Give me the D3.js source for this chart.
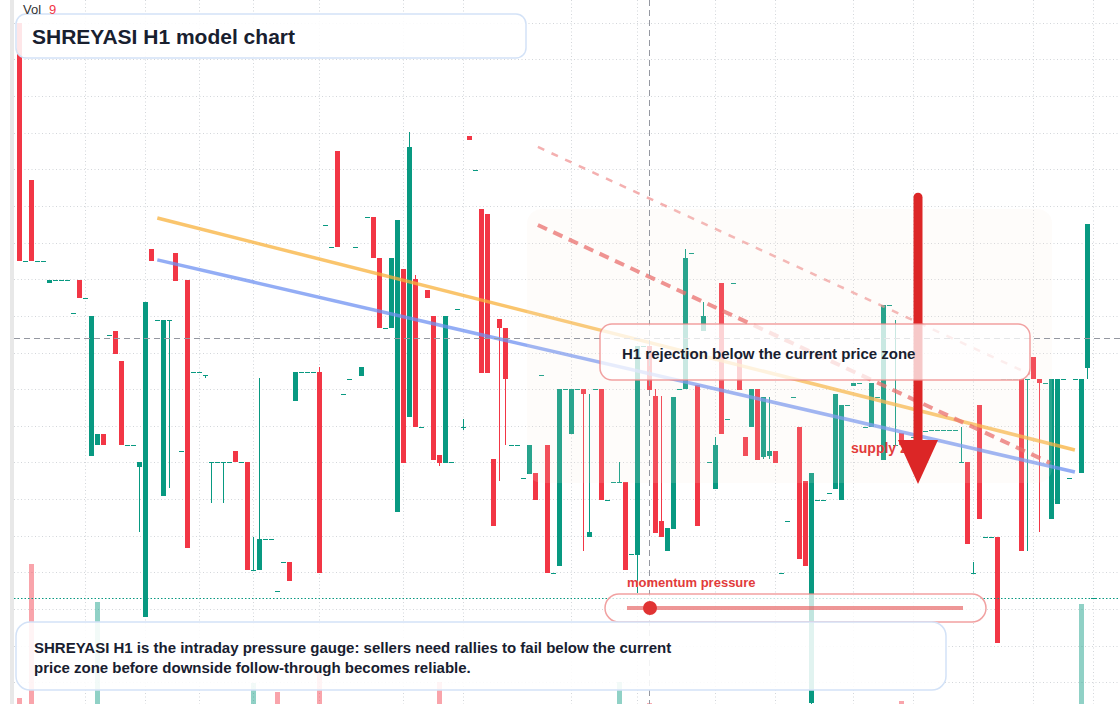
<!DOCTYPE html>
<html>
<head>
<meta charset="utf-8">
<script src="https://cdn.jsdelivr.net/npm/d3@7"></script>
<style>
html, body { margin: 0; padding: 0; background: #fff; }
svg { display: block; font-family: "Liberation Sans", Arial, Helvetica, sans-serif; }
</style>
</head>
<body>
<svg id="chart" width="1120" height="704"></svg>
<script>
// hourly bars, oldest first
const opens = [
  320.0, 255.0, 277.1, 255.0, 255.0, 249.0, 249.8, 249.8, 249.8, 240.8,
  249.8, 245.0, 201.8, 204.7, 207.9, 234.8, 235.9, 227.8, 204.8, 204.8,
  198.7, 157.9, 258.2, 239.0, 190.8, 239.0, 257.1, 203.0, 249.8, 224.6,
  224.6, 223.8, 200.0, 200.0, 200.0, 200.0, 203.0, 200.0, 200.0, 170.7,
  170.7, 179.0, 179.0, 164.8, 172.9, 172.9, 216.8, 224.7, 224.7, 224.7,
  224.7, 264.9, 258.9, 285.1, 218.7, 222.9, 258.9, 223.7, 267.1, 267.1,
  255.9, 236.7, 236.7, 186.6, 252.9, 212.5, 250.0, 209.7, 247.0, 239.9,
  202.0, 199.8, 200.0, 242.0, 209.7, 289.0, 279.9, 269.1, 267.9, 200.9,
  239.1, 236.8, 204.8, 204.8, 195.9, 196.8, 197.0, 223.9, 204.9, 169.9,
  171.8, 220.0, 207.8, 220.0, 220.0, 179.7, 220.0, 220.0, 189.8, 194.8,
  194.8, 194.8, 174.9, 174.7, 231.8, 231.8, 218.1, 183.9, 175.9, 181.9,
  220.0, 220.0, 257.1, 221.2, 235.8, 200.0, 192.7, 249.1, 211.9, 249.0,
  228.3, 206.9, 209.7, 220.0, 201.6, 201.8, 203.1, 169.9, 183.9, 217.9,
  209.8, 195.0, 134.5, 189.8, 189.8, 191.8, 192.7, 189.8, 215.8, 220.8,
  221.8, 209.8, 209.8, 217.9, 200.6, 243.1, 204.9, 208.0, 205.0, 207.0,
  208.0, 208.5, 209.0, 209.0, 209.0, 209.0, 209.0, 200.0, 200.0, 169.9,
  215.8, 179.7, 179.7, 179.7, 222.9, 222.9, 222.9, 222.9, 222.9, 228.9,
  222.9, 221.7, 184.7, 188.7, 222.9, 195.9, 222.9, 197.0, 225.8, 162.9
];
const highs = [
  320.0, 255.0, 277.1, 255.0, 255.0, 249.8, 249.8, 249.8, 249.8, 240.8,
  249.8, 245.0, 239.9, 207.9, 207.9, 234.8, 235.9, 227.8, 204.8, 204.8,
  200.0, 243.8, 258.2, 239.0, 239.0, 239.0, 257.1, 203.0, 249.8, 224.6,
  224.6, 223.8, 200.0, 200.0, 200.0, 200.0, 203.0, 200.0, 200.0, 179.7,
  223.0, 179.0, 179.0, 164.8, 172.9, 172.9, 224.7, 224.7, 224.7, 224.7,
  226.0, 264.9, 258.9, 285.1, 218.7, 222.9, 258.9, 226.0, 267.1, 267.1,
  255.9, 236.7, 255.9, 266.1, 252.9, 290.1, 251.2, 209.7, 247.0, 239.9,
  202.0, 239.9, 200.0, 242.0, 212.0, 289.0, 279.9, 269.1, 267.9, 200.9,
  239.1, 236.8, 204.8, 204.8, 195.9, 204.9, 197.0, 223.9, 204.9, 169.9,
  220.0, 220.0, 220.0, 220.0, 220.0, 218.8, 220.0, 220.0, 189.8, 194.8,
  200.0, 194.8, 174.9, 231.8, 231.8, 231.8, 220.0, 218.1, 182.1, 218.0,
  220.0, 258.2, 257.1, 221.2, 243.8, 200.0, 206.9, 249.1, 211.9, 249.0,
  228.3, 206.9, 220.0, 220.0, 218.0, 218.0, 203.1, 169.9, 183.9, 217.9,
  209.8, 195.0, 197.0, 189.8, 189.8, 191.8, 218.8, 215.8, 215.8, 221.8,
  221.8, 209.8, 221.8, 217.9, 243.1, 243.1, 239.0, 208.0, 205.0, 207.0,
  208.0, 208.5, 209.0, 209.0, 209.0, 209.0, 209.0, 209.8, 200.0, 172.9,
  215.8, 179.7, 179.7, 179.7, 222.9, 222.9, 222.9, 222.9, 222.9, 228.9,
  222.9, 221.7, 222.9, 222.9, 222.9, 195.9, 222.9, 222.9, 265.0, 162.9
];
const lows = [
  254.9, 255.0, 254.9, 255.0, 255.0, 249.0, 249.8, 249.8, 249.8, 240.8,
  244.9, 245.0, 201.8, 204.7, 204.7, 234.8, 229.7, 204.7, 204.8, 204.8,
  181.0, 157.9, 254.9, 239.0, 190.8, 193.0, 249.6, 203.0, 176.7, 224.6,
  224.6, 223.0, 189.0, 200.0, 189.0, 200.0, 200.0, 200.0, 170.7, 170.7,
  170.7, 179.0, 179.0, 164.8, 172.9, 167.6, 216.8, 224.7, 224.7, 224.7,
  169.9, 264.9, 258.9, 258.8, 218.7, 222.9, 258.9, 223.7, 267.1, 255.7,
  236.7, 236.7, 236.7, 186.6, 199.8, 212.5, 209.7, 209.7, 244.9, 200.6,
  199.0, 199.8, 200.0, 242.0, 209.0, 288.0, 279.9, 224.5, 224.5, 182.7,
  195.0, 204.9, 204.8, 204.8, 195.9, 196.8, 189.7, 223.9, 169.9, 169.9,
  171.8, 220.0, 207.8, 220.0, 175.9, 179.7, 220.0, 189.8, 189.8, 194.8,
  194.8, 170.7, 174.9, 164.3, 231.8, 219.8, 180.7, 179.7, 175.9, 181.9,
  220.0, 220.0, 257.1, 182.7, 235.8, 200.0, 192.7, 207.8, 211.9, 249.0,
  219.8, 201.8, 209.7, 200.6, 200.9, 200.9, 199.8, 169.9, 183.9, 217.9,
  173.6, 171.8, 134.0, 189.8, 189.8, 191.8, 192.7, 189.8, 215.8, 220.8,
  221.8, 209.8, 209.8, 217.9, 200.6, 243.1, 204.9, 204.9, 205.0, 207.0,
  208.0, 208.5, 209.0, 209.0, 209.0, 209.0, 209.0, 200.0, 177.7, 169.9,
  184.7, 179.7, 179.7, 150.8, 222.9, 222.9, 222.9, 175.8, 175.9, 222.9,
  181.0, 221.7, 184.7, 188.7, 222.9, 195.9, 222.9, 197.0, 222.9, 162.9
];
const closes = [
  254.9, 255.0, 254.9, 255.0, 255.0, 249.8, 249.8, 249.8, 249.8, 240.8,
  244.9, 245.0, 239.9, 207.9, 204.7, 234.8, 229.7, 204.7, 204.8, 204.8,
  200.0, 243.8, 254.9, 239.0, 239.0, 239.0, 249.6, 203.0, 176.7, 224.6,
  224.6, 223.8, 200.0, 200.0, 200.0, 200.0, 200.0, 200.0, 170.7, 170.7,
  179.0, 179.0, 179.0, 164.8, 172.9, 167.6, 224.7, 224.7, 224.7, 224.7,
  169.9, 264.9, 258.9, 258.8, 218.7, 222.9, 258.9, 226.0, 267.1, 255.7,
  236.7, 236.7, 255.9, 266.1, 199.8, 286.0, 209.7, 209.7, 244.9, 200.6,
  199.8, 239.9, 200.0, 242.0, 209.7, 288.0, 279.9, 224.5, 224.5, 182.7,
  236.7, 222.8, 204.8, 204.8, 195.9, 204.9, 189.7, 223.9, 169.9, 169.9,
  220.0, 220.0, 220.0, 220.0, 218.6, 181.0, 220.0, 189.8, 189.8, 194.8,
  194.8, 170.7, 174.9, 231.8, 231.8, 219.8, 180.7, 179.7, 182.1, 218.0,
  220.0, 255.9, 257.1, 182.7, 239.9, 200.0, 204.9, 207.8, 211.9, 249.0,
  219.8, 201.8, 220.0, 200.6, 218.0, 203.1, 199.8, 169.9, 183.9, 217.9,
  173.6, 171.8, 197.0, 189.8, 189.8, 191.8, 218.8, 215.8, 215.8, 221.8,
  221.8, 209.8, 221.8, 217.9, 243.1, 243.1, 204.9, 204.9, 205.0, 207.0,
  208.0, 208.5, 209.0, 209.0, 209.0, 209.0, 209.0, 200.0, 177.7, 169.9,
  184.7, 179.7, 179.7, 150.8, 222.9, 222.9, 222.9, 175.8, 222.9, 222.9,
  221.7, 221.7, 222.9, 222.9, 222.9, 195.9, 222.9, 222.9, 265.0, 162.9
];

// volume histogram (only bars that show)
const volIndex = [0, 2, 13, 39, 43, 50, 70, 100, 105, 147, 177];
const volValue = [60, 1400, 1020, 210, 120, 310, 220, 220, 9, 30, 1000];
const volUp = [false, false, true, true, false, false, false, true, false, false, true];

// session boundaries (bar index)
const sessionBreaks = [11, 21, 30, 39, 50, 64, 74, 92, 103, 116, 126, 139, 149, 159, 169, 179];

// drawings, [bar index, price]
const ema1 = [[22.97, 266.7], [175.9, 203.4]];
const ema2 = [[22.97, 255.3], [175.9, 197.4]];
const rejectLine = [[86.4, 264.8], [171.75, 199.9]];
const upperLine = [[86.4, 286.1], [168.4, 224.1]];
const supplyZone = { from: 84.6, to: 172.1, top: 269.2, bottom: 194.4 };
const arrowBar = 149.75, arrowFrom = 272.4, arrowTo = 194.1;
const crossBar = 105, crossPrice = 234.0;

const titleText = "SHREYASI H1 model chart";
const noteText = "H1 rejection below the current price zone";
const footLines = [
  "SHREYASI H1 is the intraday pressure gauge: sellers need rallies to fail below the current",
  "price zone before downside follow-through becomes reliable."
];

const W = 1120, H = 704;
const UP = "#089981", DOWN = "#f23645";

const svg = d3.select("#chart");
const x = d3.scaleLinear().domain([0, 179]).range([19.5, 1093.5]);
const y = d3.scaleLinear().domain([134.1, 326.2]).range([H, 0]);
const yv = d3.scaleLinear().domain([0, 1400]).range([H, 564]);

svg.append("rect").attr("width", W).attr("height", H).attr("fill", "#fff");
svg.append("rect").attr("x", 10).attr("y", 0).attr("width", 4).attr("height", H).attr("fill", "#e8e8e8");

// grid
let grid = svg.append("g").attr("stroke", "#d3d6da").attr("stroke-width", 1).attr("stroke-dasharray", "1,2.5");
grid.selectAll(".h").data(y.ticks(20)).enter().append("line")
    .attr("x1", 14).attr("x2", W)
    .attr("y1", d => Math.round(y(d)) + 0.5).attr("y2", d => Math.round(y(d)) + 0.5);
grid.selectAll(".v").data(sessionBreaks).enter().append("line")
    .attr("x1", d => Math.floor(x(d)) + 0.5).attr("x2", d => Math.floor(x(d)) + 0.5)
    .attr("y1", 0).attr("y2", H);

// volume
svg.append("g").selectAll("rect").data(volIndex).enter().append("rect")
    .attr("x", d => x(d) - 2.5)
    .attr("width", 5)
    .attr("y", (d, k) => yv(volValue[k]))
    .attr("height", (d, k) => H - yv(volValue[k]))
    .attr("fill", (d, k) => volUp[k] ? UP : DOWN)
    .attr("opacity", 0.45);

// candles
let bars = d3.range(opens.length);
let cg = svg.append("g").attr("shape-rendering", "crispEdges");
cg.selectAll(".wick").data(bars).enter().append("rect")
    .attr("x", i => Math.floor(x(i)))
    .attr("width", 1)
    .attr("y", i => Math.round(y(highs[i])))
    .attr("height", i => Math.max(1, Math.round(y(lows[i])) - Math.round(y(highs[i]))))
    .attr("fill", i => closes[i] >= opens[i] ? UP : DOWN);
cg.selectAll(".body").data(bars).enter().append("rect")
    .attr("x", i => x(i) - 2.5)
    .attr("width", 5)
    .attr("y", i => Math.round(y(Math.max(opens[i], closes[i]))))
    .attr("height", i => Math.max(1, Math.round(y(Math.min(opens[i], closes[i]))) - Math.round(y(Math.max(opens[i], closes[i])))))
    .attr("fill", i => closes[i] >= opens[i] ? UP : DOWN);

// last price line
let lastY = Math.round(y(closes[closes.length - 1])) + 0.5;
svg.append("line").attr("x1", 14).attr("x2", W).attr("y1", lastY).attr("y2", lastY)
    .attr("stroke", UP).attr("stroke-width", 1).attr("stroke-dasharray", "1.5,2");

// trend lines
let line = d3.line().x(d => x(d[0])).y(d => y(d[1]));
svg.append("path").attr("d", line(ema1)).attr("fill", "none")
    .attr("stroke", "#f8b13c").attr("stroke-opacity", 0.75).attr("stroke-width", 3.5);
svg.append("path").attr("d", line(ema2)).attr("fill", "none")
    .attr("stroke", "#6f92f2").attr("stroke-opacity", 0.75).attr("stroke-width", 3.5);
svg.append("path").attr("d", line(upperLine)).attr("fill", "none")
    .attr("stroke", "#ef8f8f").attr("stroke-opacity", 0.7).attr("stroke-width", 2.5)
    .attr("stroke-dasharray", "7,8");
svg.append("path").attr("d", line(rejectLine)).attr("fill", "none")
    .attr("stroke", "#e85c5c").attr("stroke-opacity", 0.75).attr("stroke-width", 4)
    .attr("stroke-dasharray", "10,7");

// supply zone shade
svg.append("rect")
    .attr("x", x(supplyZone.from)).attr("y", y(supplyZone.top))
    .attr("width", x(supplyZone.to) - x(supplyZone.from))
    .attr("height", y(supplyZone.bottom) - y(supplyZone.top))
    .attr("rx", 15)
    .attr("fill", "rgb(250,235,220)").attr("fill-opacity", 0.14);

// crosshair
let cx = Math.floor(x(crossBar)) + 0.5, cy = Math.round(y(crossPrice)) + 0.5;
svg.append("line").attr("x1", cx).attr("x2", cx).attr("y1", 0).attr("y2", H)
    .attr("stroke", "#9598a1").attr("stroke-width", 1).attr("stroke-dasharray", "6,4");
svg.append("line").attr("x1", 14).attr("x2", W).attr("y1", cy).attr("y2", cy)
    .attr("stroke", "#9598a1").attr("stroke-width", 1).attr("stroke-dasharray", "6,4");

// supply label + arrow
svg.append("text").attr("x", 851).attr("y", 452.5)
    .attr("font-size", 14).attr("font-weight", "bold").attr("fill", "#e23b3b")
    .text("supply zone");
let ax = x(arrowBar), headY = y(arrowTo) - 44;
svg.append("line").attr("x1", ax).attr("x2", ax).attr("y1", y(arrowFrom)).attr("y2", headY + 2)
    .attr("stroke", "#dc2626").attr("stroke-width", 9).attr("stroke-linecap", "round");
svg.append("path")
    .attr("d", `M${ax - 20},${headY} L${ax + 20},${headY} L${ax},${y(arrowTo)} Z`)
    .attr("fill", "#dc2626");

// annotation box
svg.append("rect").attr("x", 600).attr("y", 324).attr("width", 430).attr("height", 56).attr("rx", 12)
    .attr("fill", "#fff").attr("fill-opacity", 0.75)
    .attr("stroke", "#ee8a8a").attr("stroke-opacity", 0.8).attr("stroke-width", 1.5);
svg.append("text").attr("x", 622).attr("y", 359)
    .attr("font-size", 15).attr("font-weight", "bold").attr("fill", "#18202f")
    .text(noteText);

// momentum pill
svg.append("text").attr("x", 627).attr("y", 587)
    .attr("font-size", 13).attr("font-weight", "bold").attr("fill", "#e23b3b")
    .text("momentum pressure");
svg.append("rect").attr("x", 605).attr("y", 594).attr("width", 381).attr("height", 28).attr("rx", 14)
    .attr("fill", "#fff").attr("fill-opacity", 0.75)
    .attr("stroke", "#ee8a8a").attr("stroke-opacity", 0.8).attr("stroke-width", 1.5);
svg.append("line").attr("x1", 627).attr("x2", 963).attr("y1", 608).attr("y2", 608)
    .attr("stroke", "#e55d5d").attr("stroke-opacity", 0.65).attr("stroke-width", 4);
svg.append("circle").attr("cx", 650).attr("cy", 608).attr("r", 7).attr("fill", "#e03333");

// title box
svg.append("rect").attr("x", 16).attr("y", 14).attr("width", 510).attr("height", 44).attr("rx", 10)
    .attr("fill", "#fff").attr("fill-opacity", 0.88)
    .attr("stroke", "#d3e2f7").attr("stroke-width", 1.5);
svg.append("text").attr("x", 32).attr("y", 43.5)
    .attr("font-size", 21).attr("font-weight", "bold").attr("fill", "#18202f")
    .text(titleText);

// footer box
svg.append("rect").attr("x", 16).attr("y", 622).attr("width", 930).attr("height", 68).attr("rx", 14)
    .attr("fill", "#fff").attr("fill-opacity", 0.88)
    .attr("stroke", "#d3e2f7").attr("stroke-width", 1.5);
svg.append("g").selectAll("text").data(footLines).enter().append("text")
    .attr("x", 34).attr("y", (d, k) => 653 + k * 20)
    .attr("font-size", 15).attr("font-weight", "bold").attr("fill", "#18202f")
    .text(d => d);

// volume legend
svg.append("text").attr("x", 23).attr("y", 13.5).attr("font-size", 13).attr("fill", "#333")
    .text("Vol");
svg.append("text").attr("x", 49).attr("y", 13.5).attr("font-size", 13).attr("fill", DOWN)
    .text(volValue[volIndex.indexOf(crossBar)]);
</script>
</body>
</html>
